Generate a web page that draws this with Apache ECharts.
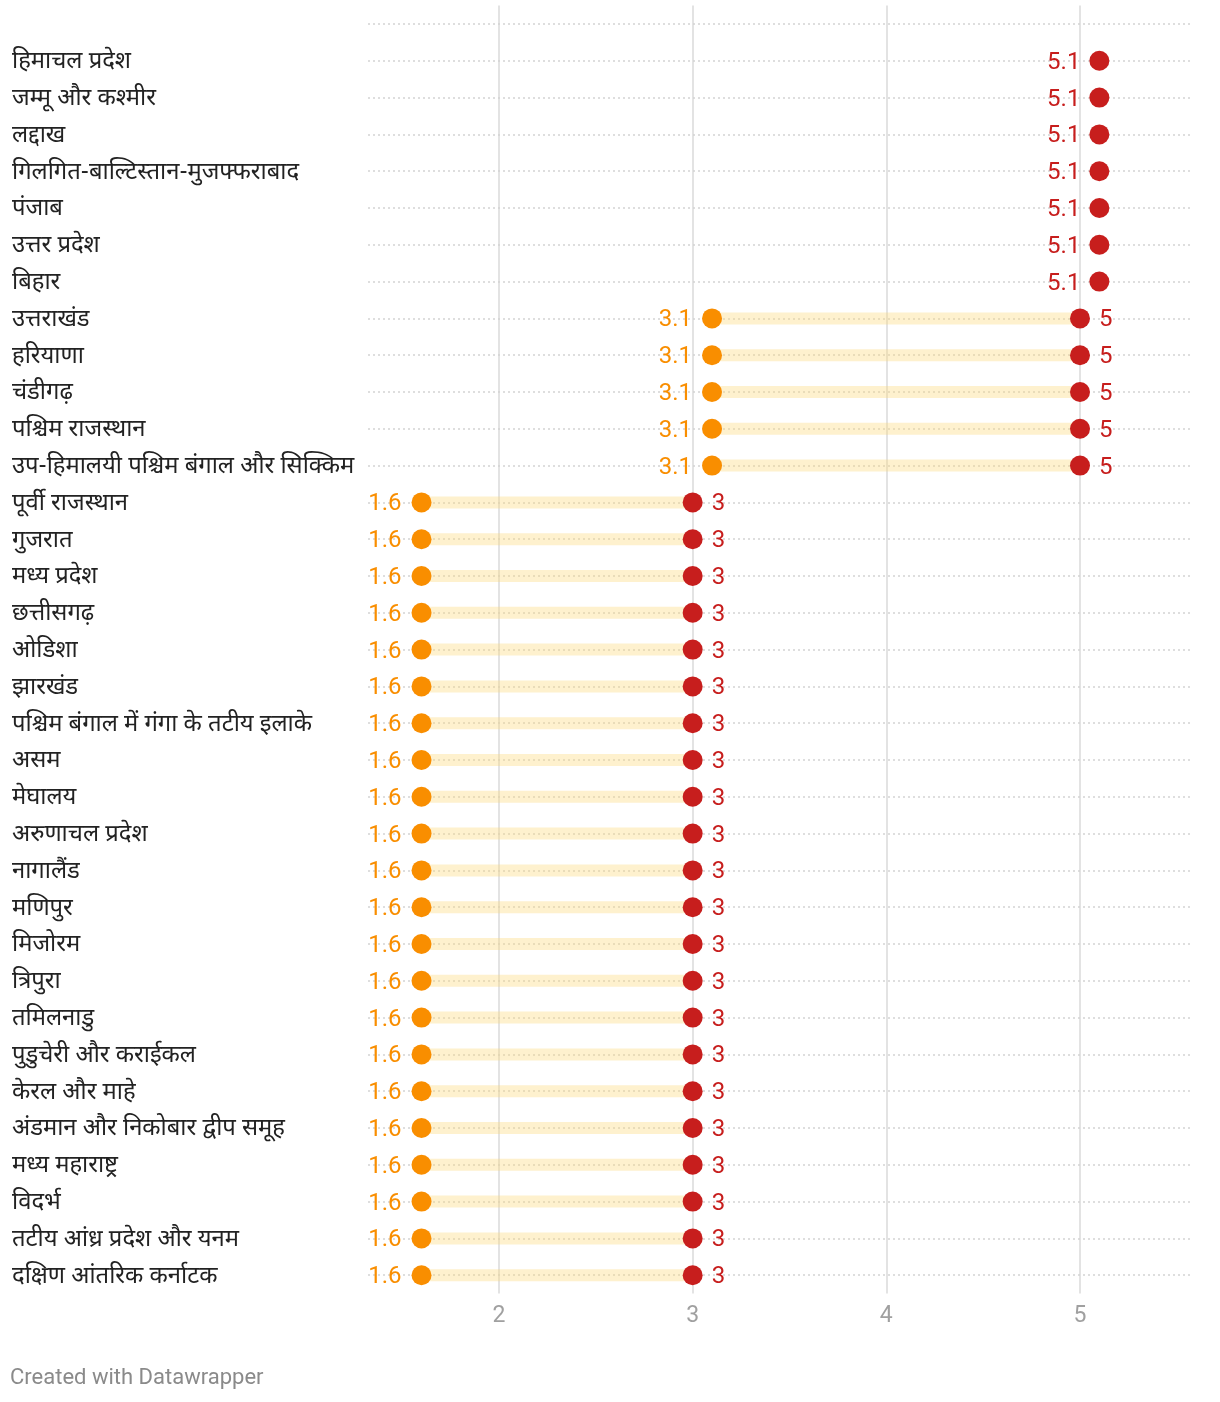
<!DOCTYPE html>
<html>
<head>
<meta charset="utf-8">
<script src="https://cdn.jsdelivr.net/npm/echarts@6/dist/echarts.min.js"></script>
<style>
html,body{margin:0;padding:0;background:#fff;}
#chart{width:1220px;height:1402px;}
</style>
</head>
<body>
<div id="chart"></div>
<script>
const categories = [
  'हिमाचल प्रदेश','जम्मू और कश्मीर','लद्दाख','गिलगित-बाल्टिस्तान-मुजफ्फराबाद','पंजाब','उत्तर प्रदेश','बिहार',
  'उत्तराखंड','हरियाणा','चंडीगढ़','पश्चिम राजस्थान','उप-हिमालयी पश्चिम बंगाल और सिक्किम',
  'पूर्वी राजस्थान','गुजरात','मध्य प्रदेश','छत्तीसगढ़','ओडिशा','झारखंड','पश्चिम बंगाल में गंगा के तटीय इलाके',
  'असम','मेघालय','अरुणाचल प्रदेश','नागालैंड','मणिपुर','मिजोरम','त्रिपुरा','तमिलनाडु','पुडुचेरी और कराईकल',
  'केरल और माहे','अंडमान और निकोबार द्वीप समूह','मध्य महाराष्ट्र','विदर्भ','तटीय आंध्र प्रदेश और यनम','दक्षिण आंतरिक कर्नाटक'
];
const lowValues = [
  null,null,null,null,null,null,null,
  3.1,3.1,3.1,3.1,3.1,
  1.6,1.6,1.6,1.6,1.6,1.6,1.6,1.6,1.6,1.6,1.6,1.6,1.6,1.6,1.6,1.6,1.6,1.6,1.6,1.6,1.6,1.6
];
const highValues = [
  5.1,5.1,5.1,5.1,5.1,5.1,5.1,
  5,5,5,5,5,
  3,3,3,3,3,3,3,3,3,3,3,3,3,3,3,3,3,3,3,3,3,3
];
const xTicks = [2,3,4,5];
const headerRow = '';

const ORANGE = '#f98e00';
const RED = '#c71e1d';
const gridLeft = 368, gridRight = 30;
const gridWidth = 1220 - gridLeft - gridRight;

const yCats = [headerRow].concat(categories);

const bandData = [];
const lowData = [];
const highData = [];
categories.forEach((c, i) => {
  const lo = lowValues[i], hi = highValues[i];
  if (lo != null) {
    bandData.push([lo, hi, c]);
    lowData.push([lo, c]);
  }
  highData.push({
    value: [hi, c],
    label: { position: lo != null ? 'right' : 'left' }
  });
});

const numRich = (color) => ({
  n: { color: color, fontFamily: 'Roboto', fontSize: 24, padding: [4, 0, 0, 0] }
});

const chart = echarts.init(document.getElementById('chart'), null, {renderer: 'canvas'});
chart.setOption({
  animation: false,
  backgroundColor: '#fff',
  grid: { left: gridLeft, right: gridRight, top: 5.6, bottom: 108.4, containLabel: false },
  xAxis: {
    type: 'value',
    min: 1.3236,
    max: 5.568,
    axisLine: { show: false },
    axisTick: { show: false, customValues: xTicks },
    axisLabel: {
      customValues: xTicks,
      color: '#a0a0a0',
      fontFamily: 'Roboto',
      fontSize: 23,
      margin: 11
    },
    splitLine: { show: true, lineStyle: { color: '#e3e3e3', width: 2 } }
  },
  yAxis: {
    type: 'category',
    inverse: true,
    data: yCats,
    boundaryGap: true,
    axisLine: { show: false },
    axisTick: {
      show: true,
      inside: true,
      alignWithLabel: true,
      interval: 0,
      length: gridWidth,
      lineStyle: { color: '#d4d4d4', width: 1.5, type: [2, 3] }
    },
    axisLabel: {
      interval: 0,
      align: 'left',
      margin: gridLeft - 12,
      formatter: v => v ? '{c|' + v + '}' : '',
      rich: {
        c: {
          color: '#222',
          fontSize: 23.8,
          padding: [6, 0, 0, 0],
          fontFamily: "'Noto Sans Devanagari', 'Noto Sans', 'Lohit Devanagari', 'FreeSans', sans-serif"
        }
      }
    },
    splitLine: { show: false }
  },
  series: [
    {
      type: 'custom',
      data: bandData,
      z: 1,
      renderItem: function (params, api) {
        const p1 = api.coord([api.value(0), api.value(2)]);
        const p2 = api.coord([api.value(1), api.value(2)]);
        return {
          type: 'line',
          shape: { x1: p1[0], y1: p1[1], x2: p2[0], y2: p2[1] },
          style: { stroke: 'rgba(252,216,120,0.36)', lineWidth: 12 }
        };
      },
      encode: { x: [0, 1], y: 2 }
    },
    {
      type: 'scatter',
      data: lowData,
      symbolSize: 20,
      z: 3,
      itemStyle: { color: ORANGE, opacity: 1 },
      label: {
        show: true,
        position: 'left',
        distance: 10,
        formatter: p => '{n|' + p.value[0] + '}',
        rich: numRich(ORANGE)
      }
    },
    {
      type: 'scatter',
      data: highData,
      symbolSize: 20,
      z: 3,
      itemStyle: { color: RED, opacity: 1 },
      label: {
        show: true,
        distance: 9,
        formatter: p => '{n|' + p.value[0] + '}',
        rich: numRich(RED)
      }
    }
  ],
  graphic: [
    {
      type: 'text',
      left: 10,
      top: 1367,
      style: {
        text: 'Created with Datawrapper',
        fill: '#8a8a8a',
        fontFamily: 'Roboto',
        fontSize: 22
      }
    }
  ]
});
</script>
</body>
</html>
